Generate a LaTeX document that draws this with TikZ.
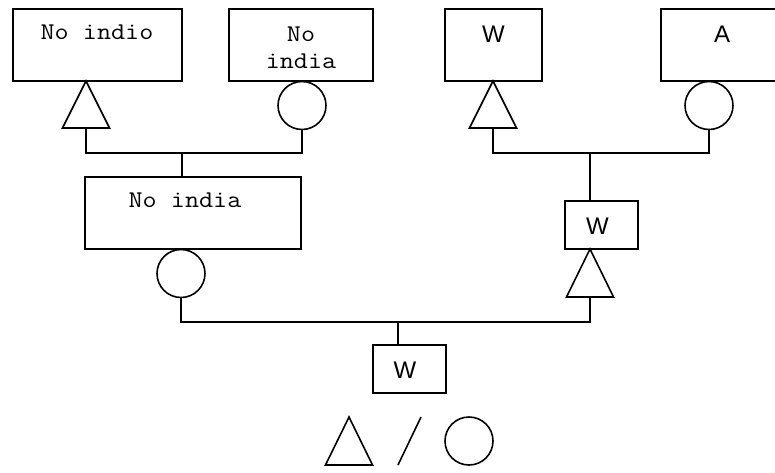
\documentclass[tikz,border=0pt]{standalone}
\usepackage{fontspec}
\setmainfont{Liberation Sans}
\newfontfamily\courfont[FakeStretch=1.14]{Latin Modern Mono}
\begin{document}
\begin{tikzpicture}[x=1pt,y=-1pt,
  line width=1.6pt,
  boxshape/.style={draw, rectangle, inner sep=0pt, outer sep=0pt},
  ringshape/.style={draw, circle, minimum size=48pt, inner sep=0pt, outer sep=0pt},
  monotext/.style={anchor=base, inner sep=0pt, font=\courfont\fontsize{24}{28}\selectfont},
  sanstext/.style={anchor=base, inner sep=0pt, font=\fontsize{24}{28}\selectfont},
  tri/.style={draw, line join=miter}
]
\useasboundingbox (0,0) rectangle (775,472);
\fill[white] (0,0) rectangle (775,472);

% boxes
\node[boxshape, minimum width=169pt, minimum height=72pt] (b1) at (97.5,45) {};
\node[boxshape, minimum width=144pt, minimum height=72pt] (b2) at (301,45) {};
\node[boxshape, minimum width=97pt, minimum height=72pt] (b3) at (493.5,45) {};
\node[boxshape, minimum width=122pt, minimum height=72pt] (b4) at (722,45) {};
\node[boxshape, minimum width=216pt, minimum height=72pt] (b5) at (193,213) {};
\node[boxshape, minimum width=73pt, minimum height=48pt] (b6) at (601.5,225) {};
\node[boxshape, minimum width=73pt, minimum height=48pt] (b7) at (409.5,369) {};

% texts
\node[monotext] (t-b1) at (97,39) {No indio};
\node[monotext] (t-b2a) at (301,41) {No};
\node[monotext] (t-b2b) at (301,68) {india};
\node[sanstext] (t-b3) at (493.5,42) {W};
\node[sanstext] (t-b4) at (722,42) {A};
\node[monotext] (t-b5) at (185,207) {No india};
\node[sanstext] (t-b6) at (597.5,234) {W};
\node[sanstext] (t-b7) at (405,378) {W};

% triangles
\coordinate (tr1a) at (86,81);  \coordinate (tr1b) at (86,128);
\coordinate (tr2a) at (493,81); \coordinate (tr2b) at (493,128);
\coordinate (tr3a) at (590,249); \coordinate (tr3b) at (590,297);
\coordinate (trLa) at (349,417); \coordinate (trLb) at (349,465);
\foreach \t in {tr1,tr2,tr3,trL}{
  \draw[tri] (\t a) -- ([xshift=23.5pt]\t b) -- ([xshift=-23.5pt]\t b) -- cycle;
}

% circles
\node[ringshape] (c1) at (302,105.5) {};
\node[ringshape] (c2) at (709,105.5) {};
\node[ringshape] (c3) at (181,273.5) {};
\node[ringshape] (cL) at (469,441) {};

% slash
\coordinate (s1) at (421,417);
\coordinate (s2) at (398,465);
\draw (s1) -- (s2);

% junctions
\coordinate (j1) at (182,153);
\coordinate (j2) at (590,153);
\coordinate (j3) at (398,322);

% connectors
\draw (tr1b) -- (tr1b |- j1) -- (c1.south |- j1) -- (c1.south);
\draw (j1) -- (j1 |- b5.north);
\draw (tr2b) -- (tr2b |- j2) -- (c2.south |- j2) -- (c2.south);
\draw (j2) -- (j2 |- b6.north);
\draw (c3.south) -- (c3.south |- j3) -- (tr3b |- j3) -- (tr3b);
\draw (j3) -- (j3 |- b7.north);
\end{tikzpicture}
\end{document}
